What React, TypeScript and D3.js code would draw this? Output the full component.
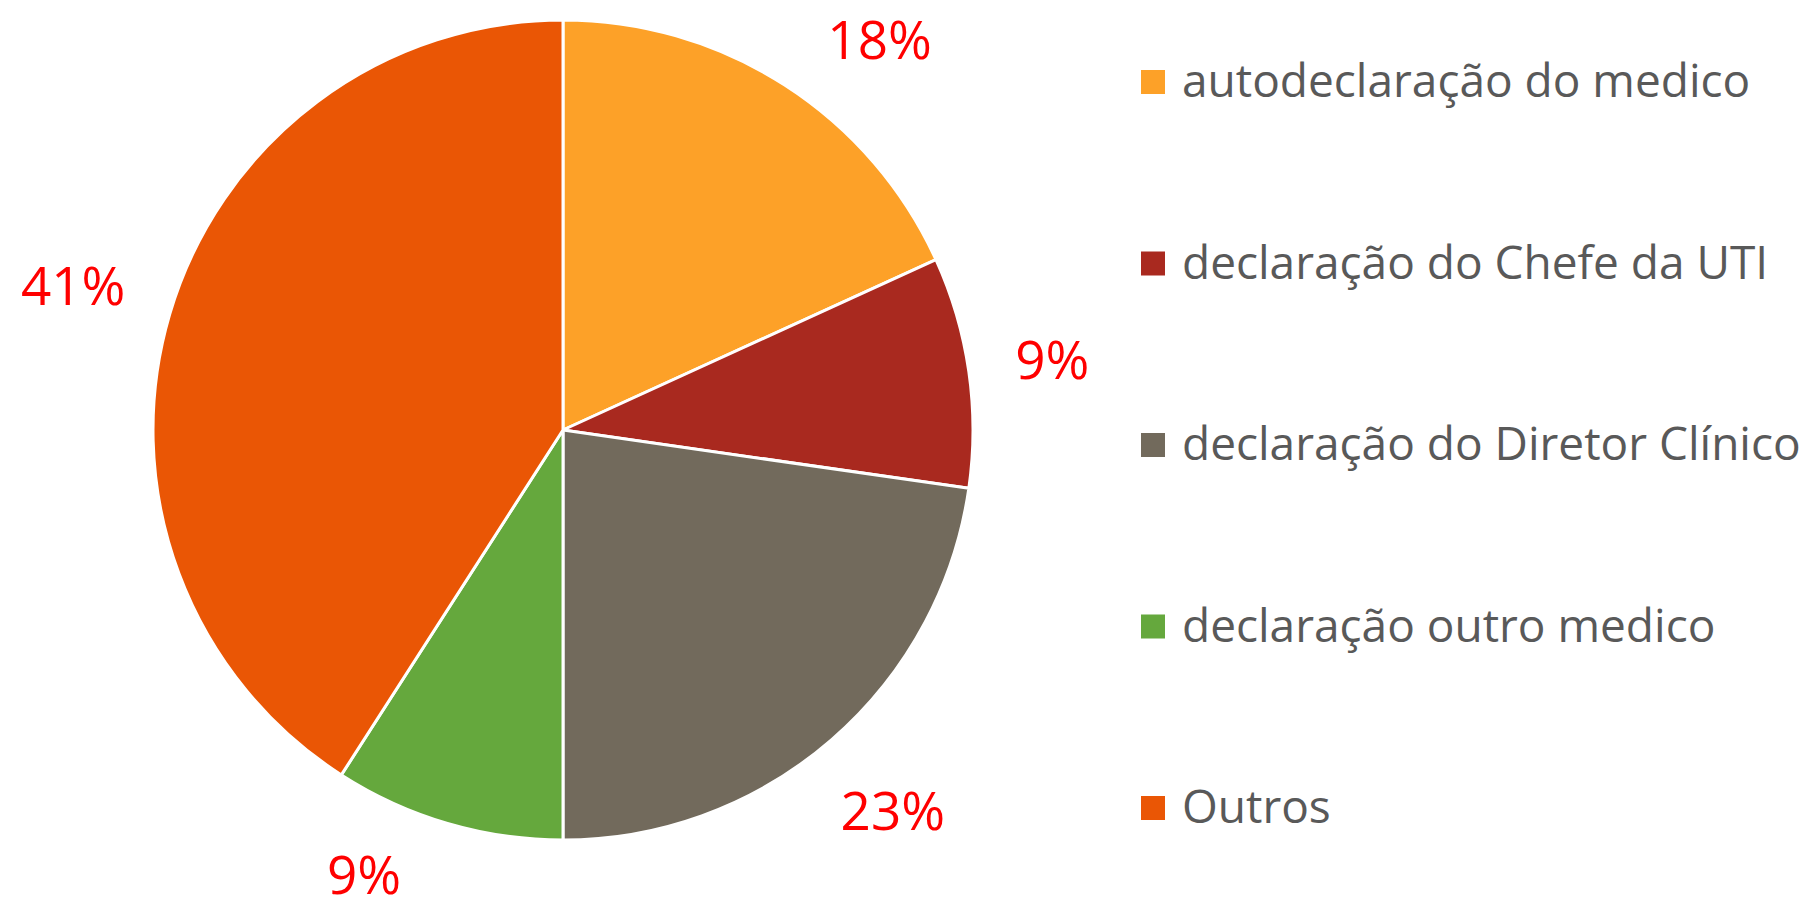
import React, { useCallback, useEffect, useRef } from "react";
import * as d3 from "d3";

// categories shown in the legend, in slice order (clockwise from 12 o'clock)
const categories = [
  "autodeclaração do medico",
  "declaração do Chefe da UTI",
  "declaração do Diretor Clínico",
  "declaração outro medico",
  "Outros",
];

// counts behind the percentages (4/22, 2/22, 5/22, 2/22, 9/22)
const counts = [4, 2, 5, 2, 9];

const colors = ["#FDA128", "#A9291F", "#726A5C", "#65A83D", "#EA5605"];

type Slice = { name: string; value: number; color: string };

const WIDTH = 1813;
const HEIGHT = 910;

/**
 * Pie chart with outside percentage labels and a legend on the right
 */
export default function App() {
  const svgRef = useRef<SVGSVGElement>(null);

  const renderChart = useCallback(() => {
    const root = d3.select(svgRef.current);
    root.selectChildren().remove();

    const cx = 563,
      cy = 430,
      radius = 410;

    const data: Slice[] = categories.map((name, i) => ({
      name,
      value: counts[i],
      color: colors[i],
    }));
    const total = d3.sum(counts);

    const pie = d3
      .pie<Slice>()
      .value((d) => d.value)
      .sort(null);
    const arcs = pie(data);
    const arc = d3.arc<d3.PieArcDatum<Slice>>().innerRadius(0).outerRadius(radius);

    const g = root.append("g").attr("transform", `translate(${cx},${cy})`);

    g.selectAll("path")
      .data(arcs)
      .enter()
      .append("path")
      .attr("d", arc)
      .attr("fill", (d) => d.data.color)
      .attr("stroke", "#ffffff")
      .attr("stroke-width", 3)
      .attr("stroke-linejoin", "round");

    // percentage labels, placed just outside the rim, nudged to stay on the page
    const fmt = d3.format(".0%");
    const fontSize = 53;
    const gap = radius + 45;
    const hh = fontSize * 0.36;
    const topLimit = 20,
      bottomLimit = HEIGHT - 15;

    const labels = g
      .selectAll("text.pct")
      .data(arcs)
      .enter()
      .append("text")
      .attr("class", "pct")
      .attr("font-family", "'Open Sans', sans-serif")
      .attr("font-size", fontSize)
      .attr("fill", "#FF0000")
      .attr("text-anchor", "middle")
      .attr("dy", "0.36em")
      .text((d) => fmt(d.value / total));

    labels.each(function (d) {
      const node = this as SVGTextElement;
      const hw = node.getComputedTextLength() / 2;
      const place = (a: number) => {
        const dist = gap + hw * Math.abs(Math.sin(a)) + hh * Math.abs(Math.cos(a));
        return [dist * Math.sin(a), -dist * Math.cos(a)];
      };
      let a = (d.startAngle + d.endAngle) / 2;
      let [x, y] = place(a);
      let guard = 0;
      while (cy + y - hh < topLimit && guard < 200) {
        a += Math.sin(a) >= 0 ? 0.005 : -0.005;
        [x, y] = place(a);
        guard++;
      }
      while (cy + y + hh > bottomLimit && guard < 400) {
        a += a > Math.PI ? 0.005 : -0.005;
        [x, y] = place(a);
        guard++;
      }
      d3.select(node).attr("x", x).attr("y", y);
    });

    // legend
    const rowY = d3.scalePoint<string>().domain(categories).range([82, 808]);
    const legendX = 1141,
      box = 24;

    const legend = root
      .append("g")
      .selectAll("g")
      .data(data)
      .enter()
      .append("g")
      .attr("transform", (d) => `translate(${legendX},${rowY(d.name)})`);

    legend
      .append("rect")
      .attr("x", 0)
      .attr("y", -box / 2)
      .attr("width", box)
      .attr("height", box)
      .attr("fill", (d) => d.color);

    legend
      .append("text")
      .attr("x", 41)
      .attr("dy", "0.33em")
      .attr("font-family", "'Open Sans', sans-serif")
      .attr("font-size", 46)
      .attr("fill", "#595959")
      .text((d) => d.name);

    return root;
  }, []);

  useEffect(() => {
    renderChart();
  }, [renderChart]);

  return (
    <svg
      ref={svgRef}
      width={WIDTH}
      height={HEIGHT}
      style={{ position: "absolute", left: 0, top: 0, display: "block", background: "#ffffff" }}
    ></svg>
  );
}
